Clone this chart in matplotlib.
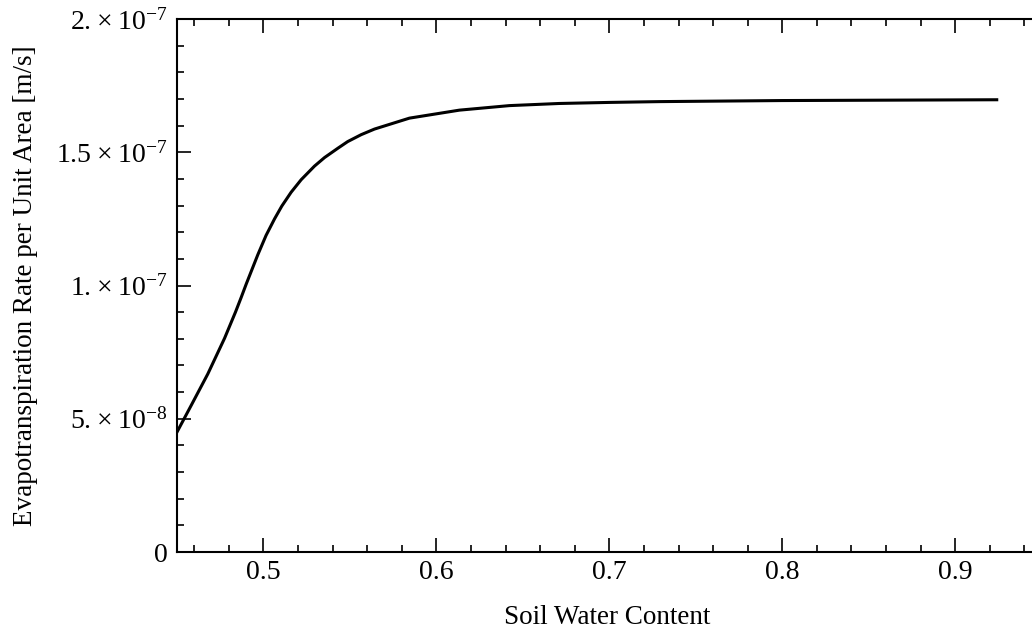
import matplotlib
matplotlib.use("Agg")
import matplotlib.pyplot as plt
from matplotlib.ticker import MultipleLocator, FixedLocator

plt.rcParams['font.family'] = ['Liberation Serif', 'DejaVu Serif']
plt.rcParams['mathtext.fontset'] = 'custom'
plt.rcParams['mathtext.rm'] = 'Liberation Serif'
plt.rcParams['mathtext.it'] = 'Liberation Serif:italic'

# soil water content vs. evapotranspiration rate (m/s)
water_content = [0.4500, 0.4582, 0.4678, 0.4775, 0.4838, 0.4871, 0.4900, 0.4967,
                 0.5015, 0.5064, 0.5106, 0.5160, 0.5218, 0.5295, 0.5353, 0.5430,
                 0.5487, 0.5565, 0.5642, 0.5844, 0.6133, 0.6422, 0.6710, 0.7000,
                 0.7290, 0.8000, 0.9240]
et_rate = [0.450e-7, 0.550e-7, 0.668e-7, 0.802e-7, 0.900e-7, 0.955e-7, 1.005e-7, 1.115e-7,
           1.188e-7, 1.250e-7, 1.298e-7, 1.350e-7, 1.397e-7, 1.448e-7, 1.480e-7, 1.515e-7,
           1.540e-7, 1.566e-7, 1.587e-7, 1.628e-7, 1.658e-7, 1.675e-7, 1.683e-7, 1.687e-7,
           1.690e-7, 1.694e-7, 1.697e-7]

x_ticks = [0.5, 0.6, 0.7, 0.8, 0.9]
x_labels = ["0.5", "0.6", "0.7", "0.8", "0.9"]
y_ticks = [0, 0.5e-7, 1.0e-7, 1.5e-7, 2.0e-7]
y_labels = ["0", "5.\u2009×\u200910$^{-8}$", "1.\u2009×\u200910$^{-7}$",
            "1.5\u2009×\u200910$^{-7}$", "2.\u2009×\u200910$^{-7}$"]

fig = plt.figure(figsize=(10.32, 6.31), dpi=100)
# frame runs past the right edge of the figure
ax = fig.add_axes([177 / 1032, 79 / 631, 882 / 1032, 533 / 631])

ax.plot(water_content, et_rate, color='black', lw=2.2, solid_joinstyle='round')

ax.set_xlim(0.45, 0.96)
ax.set_ylim(0, 2e-7)

ax.xaxis.set_major_locator(FixedLocator(x_ticks))
ax.set_xticklabels(x_labels)
ax.xaxis.set_minor_locator(MultipleLocator(0.02))
ax.yaxis.set_major_locator(FixedLocator(y_ticks))
ax.set_yticklabels(y_labels)
ax.yaxis.set_minor_locator(MultipleLocator(1e-8))

ax.tick_params(which='both', direction='in', top=True, right=True,
               color='black', width=1.2, labelsize=20)
ax.tick_params(which='major', length=10)
ax.tick_params(which='minor', length=5)
ax.tick_params(axis='x', which='major', pad=6)
ax.tick_params(axis='y', which='major', pad=7)

for sp in ax.spines.values():
    sp.set_linewidth(1.5)

ax.set_xlabel("Soil Water Content", fontsize=19.5, va='center')
ax.xaxis.set_label_coords(430 / 882, -66 / 533)
ax.set_ylabel("Evapotranspiration Rate per Unit Area [m/s]", fontsize=19.5, va='center')
ax.yaxis.set_label_coords(-151 / 882, 0.5)

fig.savefig("out.png", dpi=100)
